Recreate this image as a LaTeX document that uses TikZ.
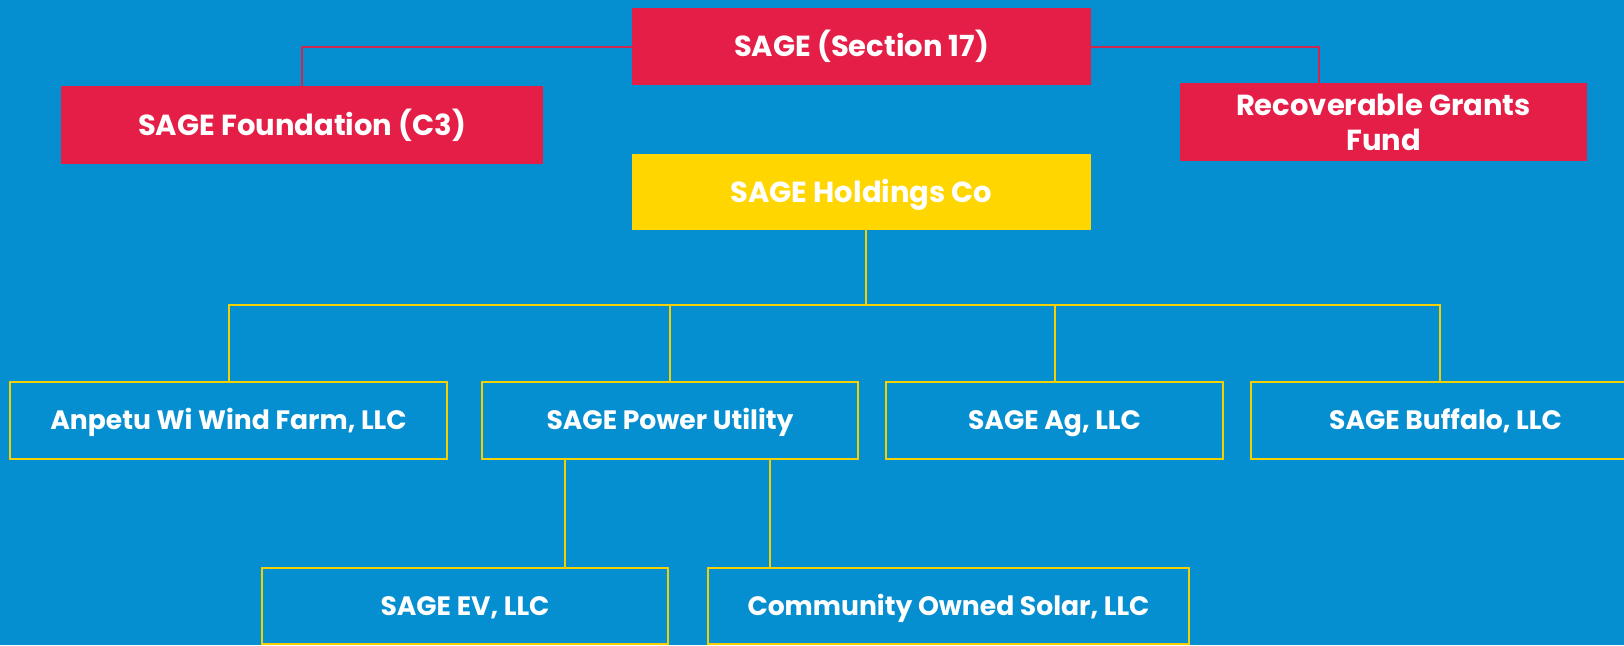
\documentclass[tikz,border=0pt]{standalone}
\usepackage{fontspec}
\setmainfont{Poppins}
\definecolor{bg}{RGB}{6,143,208}
\definecolor{sred}{RGB}{228,30,70}
\definecolor{sredline}{RGB}{205,40,80}
\definecolor{syel}{RGB}{255,214,0}
\definecolor{syline}{RGB}{245,208,0}
\tikzset{
  lbl/.style={text=white,align=center,inner sep=0pt,outer sep=0pt},
  bigtxt/.style={font=\fontsize{29}{35}\selectfont\bfseries},
  smtxt/.style={font=\fontsize{26.6}{32}\selectfont\bfseries},
  capb/.style={text height=20.3pt,text depth=0pt},
  caps/.style={text height=18.6pt,text depth=0pt},
  redbox/.style={lbl,bigtxt,fill=sred},
  yelbox/.style={lbl,bigtxt,capb,fill=syel},
  outbox/.style={lbl,smtxt,caps,draw=syline,line width=2.5pt},
  redln/.style={draw=sredline,line width=2pt},
  yelln/.style={draw=syline,line width=2pt}
}
\begin{document}
\begin{tikzpicture}[x=1pt,y=-1pt]
\useasboundingbox (0,0) rectangle (1624,645);
\fill[bg] (0,0) rectangle (1624,645);
\coordinate (bus) at (866,305);
\node[redbox,capb,minimum width=459pt,minimum height=77pt] (top) at (861.5,46.5) {SAGE (Section 17)};
\node[redbox,capb,minimum width=482pt,minimum height=78pt] (found) at (302,125) {SAGE Foundation (C3)};
\node[redbox,minimum width=407pt,minimum height=78pt] (rgf) at (1383.5,122) {Recoverable Grants\\Fund};
\node[yelbox,minimum width=459pt,minimum height=76pt] (hold) at (861.5,192) {SAGE Holdings Co};
\node[outbox,minimum width=437pt,minimum height=77pt] (anp) at (228.5,420.5) {Anpetu Wi Wind Farm, LLC};
\node[outbox,minimum width=376pt,minimum height=77pt] (pow) at (670,420.5) {SAGE Power Utility};
\node[outbox,minimum width=337pt,minimum height=77pt] (ag) at (1054.5,420.5) {SAGE Ag, LLC};
\node[outbox,minimum width=389pt,minimum height=77pt] (buf) at (1445.5,420.5) {SAGE Buffalo, LLC};
\node[outbox,minimum width=406pt,minimum height=76pt] (ev) at (465,606) {SAGE EV, LLC};
\node[outbox,minimum width=481pt,minimum height=76pt] (cos) at (948.5,606) {Community Owned Solar, LLC};
% red connectors
\draw[redln] (top.west) -| (found.north);
\draw[redln] (top.east) -| ([xshift=-64.5pt]rgf.north);
% yellow connectors
\draw[yelln] (bus |- hold.south) -- (bus);
\draw[yelln] (anp.north) |- ([xshift=-5.5pt]buf.north |- bus) -- ([xshift=-5.5pt]buf.north);
\draw[yelln] (pow.north) -- (pow.north |- bus);
\draw[yelln] (ag.north) -- (ag.north |- bus);
\draw[yelln] ([xshift=100pt]ev.north) -- ([xshift=100pt]ev.north |- pow.south);
\draw[yelln] ([xshift=-178.5pt]cos.north) -- ([xshift=-178.5pt]cos.north |- pow.south);
\end{tikzpicture}
\end{document}
